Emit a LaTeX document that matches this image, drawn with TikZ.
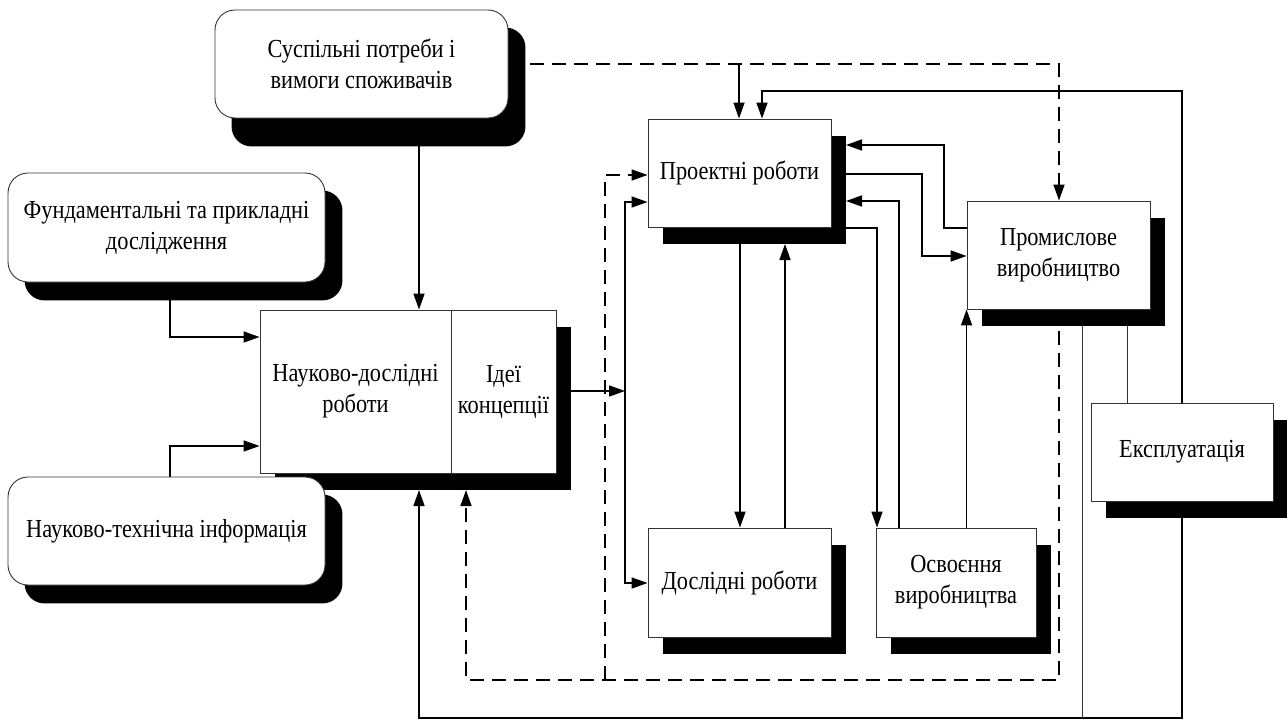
\documentclass[tikz,border=0pt]{standalone}
\usepackage{fontspec}
\setmainfont{Liberation Serif}[FakeStretch=0.86]
\usetikzlibrary{arrows.meta}
\pgfdeclarelayer{wires}
\pgfdeclarelayer{shade}
\pgfsetlayers{wires,shade,main}
\begin{document}
\begin{tikzpicture}[x=1pt,y=-1pt,
  lbl/.style={font=\fontsize{26pt}{31pt}\selectfont, align=center, inner sep=0pt, text=black},
  sqbox/.style={lbl, draw=black!80, line width=0.9pt, fill=white},
  rbox/.style={sqbox, rounded corners=20pt},
  arr/.style={line width=1.6pt, -{Triangle[length=16pt,width=11pt]}},
  darr/.style={arr, dash pattern=on 14pt off 8pt},
  thinw/.style={line width=0.9pt, black!80},
  shadowfill/.style={fill=black}]
\useasboundingbox (0,0) rectangle (1287,720);

% ---------- blocks ----------
\node[rbox, minimum width=293, minimum height=108] (sus) at (361.5,64)
  {Суспільні потреби і\\вимоги споживачів};
\node[rbox, minimum width=317, minimum height=109] (fund) at (166.5,227.5)
  {Фундаментальні та прикладні\\дослідження};
\node[rbox, minimum width=317, minimum height=108] (nti) at (166.5,531)
  {Науково-технічна інформація};
\node[sqbox, minimum width=191, minimum height=163] (ndr) at (355.5,391.5)
  {Науково-дослідні\\роботи};
\node[sqbox, minimum width=105, minimum height=163] (idea) at (503.5,391.5)
  {Ідеї\\концепції};
\node[sqbox, minimum width=183, minimum height=108] (proekt) at (739.5,173)
  {Проектні роботи};
\node[sqbox, minimum width=183, minimum height=108] (prom) at (1058.5,255)
  {Промислове\\виробництво};
\node[sqbox, minimum width=182, minimum height=98] (eksp) at (1182,452)
  {Експлуатація};
\node[sqbox, minimum width=183, minimum height=109] (dosl) at (739.5,582.5)
  {Дослідні роботи};
\node[sqbox, minimum width=160, minimum height=109] (osv) at (956,582.5)
  {Освоєння\\виробництва};

% ---------- drop shadows ----------
\begin{pgfonlayer}{shade}
  \fill[shadowfill, rounded corners=20pt] ([shift={(17,18)}]sus.north west) rectangle ([shift={(17,28)}]sus.south east);
  \fill[shadowfill, rounded corners=20pt] ([shift={(17,18)}]fund.north west) rectangle ([shift={(17,18)}]fund.south east);
  \fill[shadowfill, rounded corners=20pt] ([shift={(17,18)}]nti.north west) rectangle ([shift={(17,18)}]nti.south east);
  \fill[shadowfill] ([shift={(15,17)}]ndr.north west) rectangle ([shift={(15,17)}]idea.south east);
  \foreach \b in {proekt,prom,eksp,dosl,osv}
    \fill[shadowfill] ([shift={(15,17)}]\b.north west) rectangle ([shift={(15,17)}]\b.south east);
\end{pgfonlayer}

% ---------- junction and bend points ----------
\coordinate (gA) at (419,0);
\coordinate (f1) at (170,337);
\coordinate (n1) at (170,446);
\coordinate (bus) at (625,391);
\coordinate (b1) at (625,202);
\coordinate (b2) at (625,583);
\coordinate (d1) at (1059,64);
\coordinate (d2) at (739,64);
\coordinate (r1) at (762,91);
\coordinate (r2) at (419,718);
\coordinate (r3) at (419,490);
\coordinate (t1) at (1082,718);
\coordinate (t2) at (1127,403);
\coordinate (d3) at (1059,680);
\coordinate (d4) at (466,680);
\coordinate (d5) at (466,490);
\coordinate (d6) at (605,680);
\coordinate (d7) at (605,175);
\coordinate (v1) at (740,0);
\coordinate (v2) at (785,244);
\coordinate (h1) at (944,228);
\coordinate (h2) at (944,145);
\coordinate (h2e) at (846,145);
\coordinate (h3) at (922,174);
\coordinate (h4) at (922,256);
\coordinate (h5) at (899,201);
\coordinate (h5e) at (846,201);
\coordinate (h6) at (877,228);

% ---------- connectors ----------
\begin{pgfonlayer}{wires}
  % inputs of the research stage
  \draw[arr] (sus.south -| gA) -- (ndr.north -| gA);
  \draw[arr] (fund.south -| f1) |- (ndr.west |- f1);
  \draw[arr] (nti.north -| n1) |- (ndr.west |- n1);
  % ideas to the design and experimental stages
  \draw[arr] (idea.east |- bus) -- (bus);
  \draw[arr] (bus) -- (b1) -- (proekt.west |- b1);
  \draw[arr] (bus) -- (b2) -- (dosl.west |- b2);
  % demand of consumers
  \draw[darr] (sus.east |- d1) -- (d1) -- (prom.north -| d1);
  \draw[arr] (d2) -- (proekt.north -| d2);
  % feedback from operation
  \draw[arr] (eksp.north) |- (r1) -- (proekt.north -| r1);
  \draw[arr] (eksp.south) |- (r2) -- (r3);
  \draw[thinw] (prom.south -| t1) -- (t1);
  \draw[thinw] (prom.south -| t2) -- (t2);
  % feedback from production
  \draw[darr] (prom.south -| d3) -- (d3) -- (d4) -- (d5);
  \draw[darr] (d6) -- (d7) -- (proekt.west |- d7);
  % design <-> experiments
  \draw[arr] (proekt.south -| v1) -- (dosl.north -| v1);
  \draw[arr] (dosl.north -| v2) -- (v2);
  % design <-> production
  \draw[arr] (prom.west |- h1) -- (h1) -- (h2) -- (h2e);
  \draw[arr] (proekt.east |- h3) -- (h3) -- (h4) -- (prom.west |- h4);
  \draw[arr] (osv.north -| h5) -- (h5) -- (h5e);
  \draw[arr] (proekt.east |- h6) -- (h6) -- (osv.north -| h6);
  \draw[arr] (osv.north -| prom.south west) -- (prom.south west);
\end{pgfonlayer}
\end{tikzpicture}
\end{document}
